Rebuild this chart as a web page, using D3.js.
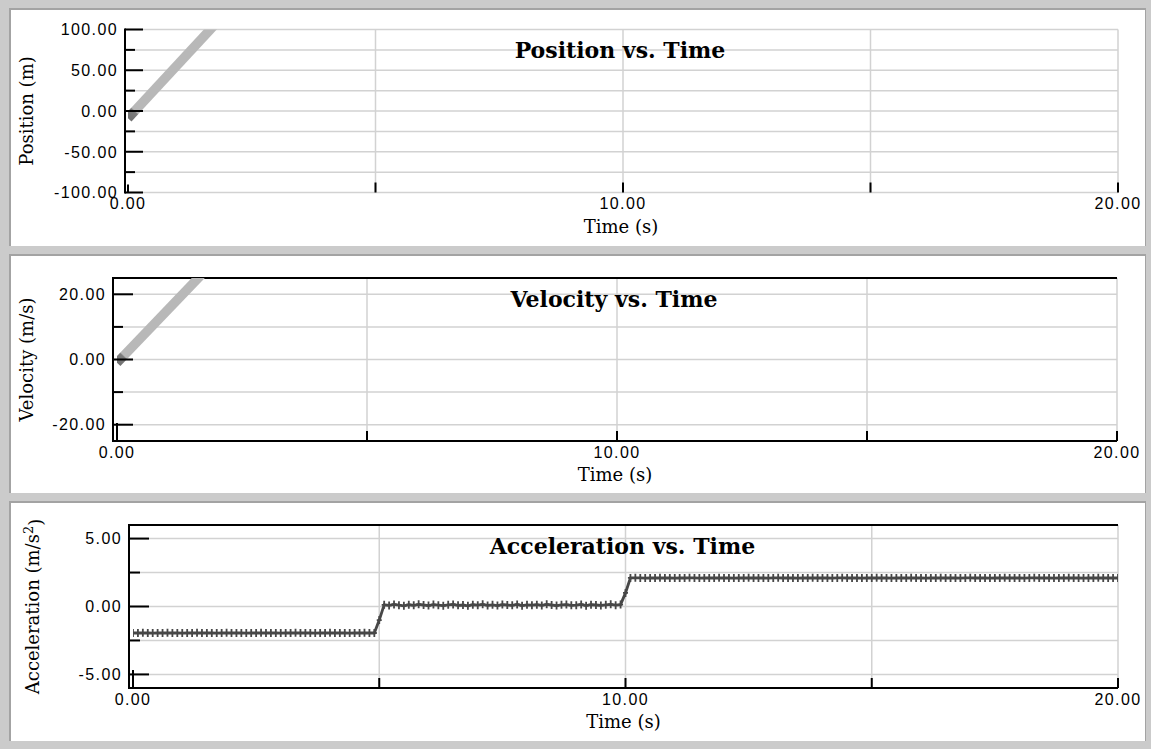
<!DOCTYPE html>
<html>
<head>
<meta charset="utf-8">
<script src="https://cdn.jsdelivr.net/npm/d3@7/dist/d3.min.js"></script>
<style>
  html, body { margin: 0; padding: 0; background: #cbcbcb; }
  svg { display: block; }
</style>
</head>
<body>
<svg id="chart" width="1151" height="749"></svg>
<script>
// ---- data ----
const timeDomain = [0, 20];
const timeTickValues = [0, 5, 10, 15, 20];
const timeTickLabels = [0, 10, 20];

// Position trace (s, m)
const positionTimes = [0, 1.8];
const positionValues = [-9, 109];

// Velocity trace (s, m/s)
const velocityTimes = [0, 1.75];
const velocityValues = [-1, 27];

// Acceleration samples (m/s^2), one every 0.1 s from 0.0 s to 20.0 s
const accelSampleStep = 0.1;
const accelValues = [
  // 0.0 – 4.9 s
  -1.95, -1.95, -1.94, -1.95, -1.96, -1.95, -1.95, -1.94, -1.95, -1.95,
  -1.96, -1.95, -1.95, -1.94, -1.95, -1.95, -1.95, -1.96, -1.95, -1.94,
  -1.95, -1.95, -1.95, -1.96, -1.95, -1.95, -1.94, -1.95, -1.95, -1.95,
  -1.96, -1.95, -1.95, -1.94, -1.95, -1.95, -1.95, -1.96, -1.95, -1.95,
  -1.94, -1.95, -1.95, -1.95, -1.96, -1.95, -1.95, -1.94, -1.95, -1.95,
  // 5.0 s
  -1.0,
  // 5.1 – 9.9 s
  0.12, 0.08, 0.15, 0.10, 0.05, 0.13, 0.09, 0.16, 0.11, 0.07,
  0.14, 0.10, 0.06, 0.12, 0.15, 0.09, 0.11, 0.05, 0.13, 0.10,
  0.16, 0.08, 0.12, 0.07, 0.14, 0.11, 0.09, 0.15, 0.06, 0.12,
  0.10, 0.13, 0.08, 0.16, 0.11, 0.07, 0.12, 0.14, 0.09, 0.10,
  0.15, 0.06, 0.13, 0.11, 0.08, 0.12, 0.16, 0.10, 0.14,
  // 10.0 s
  1.0,
  // 10.1 – 20.0 s
  2.10, 2.11, 2.10, 2.09, 2.10, 2.10, 2.11, 2.10, 2.10, 2.09,
  2.10, 2.10, 2.11, 2.10, 2.09, 2.10, 2.10, 2.10, 2.11, 2.10,
  2.10, 2.09, 2.10, 2.10, 2.11, 2.10, 2.10, 2.10, 2.09, 2.10,
  2.11, 2.10, 2.10, 2.10, 2.09, 2.10, 2.10, 2.11, 2.10, 2.10,
  2.10, 2.09, 2.10, 2.11, 2.10, 2.10, 2.10, 2.09, 2.10, 2.10,
  2.11, 2.10, 2.10, 2.09, 2.10, 2.10, 2.10, 2.11, 2.10, 2.10,
  2.09, 2.10, 2.10, 2.11, 2.10, 2.10, 2.10, 2.09, 2.10, 2.11,
  2.10, 2.10, 2.10, 2.09, 2.10, 2.10, 2.11, 2.10, 2.10, 2.10,
  2.09, 2.10, 2.11, 2.10, 2.10, 2.10, 2.09, 2.10, 2.10, 2.11,
  2.10, 2.10, 2.09, 2.10, 2.10, 2.11, 2.10, 2.10, 2.10, 2.10
];

// Axis ranges and tick values for each graph
const positionDomain = [-100, 100];
const positionMajorTicks = [-100, -50, 0, 50, 100];
const positionMinorTicks = [-75, -25, 25, 75];

const velocityDomain = [-25, 25];
const velocityMajorTicks = [-20, 0, 20];
const velocityMinorTicks = [-10, 10];

const accelDomain = [-6, 6];
const accelMajorTicks = [-5, 0, 5];
const accelMinorTicks = [-2.5, 2.5];

// ---- drawing ----
const svg = d3.select("#chart");
const fmt2 = d3.format(".2f");
const fmt = d => fmt2(d).replace("\u2212", "-");
const TICK_FONT = "Liberation Sans, Arial, sans-serif";
const SERIF = "DejaVu Serif, serif";

const defs = svg.append("defs");

function drawPanel(cfg) {
  // panel background with sunken border
  svg.append("rect")
    .attr("x", 9).attr("y", cfg.panelTop - 2)
    .attr("width", 1137).attr("height", cfg.panelBottom - cfg.panelTop + 2)
    .attr("fill", "#a3a3a3");
  svg.append("rect")
    .attr("x", 11).attr("y", cfg.panelTop)
    .attr("width", 1134).attr("height", cfg.panelBottom - cfg.panelTop)
    .attr("fill", "#ffffff");

  const x = d3.scaleLinear().domain(timeDomain).range([cfg.left, cfg.right]);
  const y = d3.scaleLinear().domain(cfg.domain).range([cfg.bottom, cfg.top]);
  const g = svg.append("g");

  // horizontal grid
  const gridVals = cfg.majorTicks.concat(cfg.minorTicks);
  g.selectAll(null).data(gridVals).join("line")
    .attr("x1", cfg.axisX).attr("x2", cfg.right)
    .attr("y1", d => y(d)).attr("y2", d => y(d))
    .attr("stroke", "#d2d2d2").attr("stroke-width", 1.5);

  // vertical grid
  g.selectAll(null).data(timeTickValues.filter(d => d > 0)).join("line")
    .attr("x1", d => x(d)).attr("x2", d => x(d))
    .attr("y1", cfg.top).attr("y2", cfg.bottom)
    .attr("stroke", "#d2d2d2").attr("stroke-width", 1.5);

  // black frame top / bottom
  if (cfg.frame) {
    [cfg.top, cfg.bottom].forEach(py => {
      g.append("line")
        .attr("x1", cfg.axisX).attr("x2", cfg.right)
        .attr("y1", py).attr("y2", py)
        .attr("stroke", "#000").attr("stroke-width", 2);
    });
  }

  // data clip
  const clipId = "clip-" + cfg.id;
  defs.append("clipPath").attr("id", clipId)
    .append("rect")
    .attr("x", cfg.left).attr("y", cfg.top)
    .attr("width", cfg.right - cfg.left).attr("height", cfg.bottom - cfg.top);

  cfg.drawSeries(g.append("g").attr("clip-path", `url(#${clipId})`), x, y);

  // y axis line and ticks
  g.append("line")
    .attr("x1", cfg.axisX).attr("x2", cfg.axisX)
    .attr("y1", cfg.top - 1).attr("y2", cfg.bottom + 1)
    .attr("stroke", "#000").attr("stroke-width", 2);
  g.selectAll(null).data(cfg.majorTicks).join("line")
    .attr("x1", cfg.axisX).attr("x2", cfg.axisX + cfg.majorLen)
    .attr("y1", d => y(d)).attr("y2", d => y(d))
    .attr("stroke", "#000").attr("stroke-width", 2);
  g.selectAll(null).data(cfg.minorTicks).join("line")
    .attr("x1", cfg.axisX).attr("x2", cfg.axisX + cfg.minorLen)
    .attr("y1", d => y(d)).attr("y2", d => y(d))
    .attr("stroke", "#000").attr("stroke-width", 2);

  // x ticks rising from the bottom edge
  g.selectAll(null).data(timeTickValues).join("line")
    .attr("x1", d => x(d)).attr("x2", d => x(d))
    .attr("y1", cfg.bottom)
    .attr("y2", d => cfg.bottom - (d === 0 ? cfg.zeroTickLen : 10))
    .attr("stroke", "#000").attr("stroke-width", 2);

  // y tick labels
  g.selectAll(null).data(cfg.majorTicks).join("text")
    .attr("x", cfg.axisX - 7).attr("y", d => y(d))
    .attr("dy", "0.36em")
    .attr("text-anchor", "end")
    .attr("font-family", TICK_FONT).attr("font-size", 16)
    .attr("letter-spacing", 1.4)
    .attr("fill", "#000")
    .text(d => fmt(d));

  // x tick labels
  g.selectAll(null).data(timeTickLabels).join("text")
    .attr("x", d => x(d)).attr("y", cfg.bottom + 11)
    .attr("dy", "0.36em")
    .attr("text-anchor", "middle")
    .attr("font-family", TICK_FONT).attr("font-size", 16)
    .attr("letter-spacing", 1.4)
    .attr("fill", "#000")
    .text(d => fmt(d));

  // x axis title
  g.append("text")
    .attr("x", (cfg.left + cfg.right) / 2 - 2).attr("y", cfg.bottom + 34)
    .attr("dy", "0.36em")
    .attr("text-anchor", "middle")
    .attr("font-family", SERIF).attr("font-size", 18)
    .text("Time (s)");

  // y axis title
  const yt = g.append("text")
    .attr("transform", `translate(${cfg.yTitleX},${(cfg.top + cfg.bottom) / 2}) rotate(-90)`)
    .attr("text-anchor", "middle")
    .attr("dy", "0.36em")
    .attr("font-family", SERIF).attr("font-size", 18);
  yt.append("tspan").text(cfg.yTitle);
  if (cfg.yTitleSup) {
    yt.append("tspan").attr("dy", "-0.5em").attr("font-size", 13).text(cfg.yTitleSup);
    yt.append("tspan").attr("dy", "0.5em").text(")");
  }

  // graph title
  g.append("text")
    .attr("x", (cfg.left + cfg.right) / 2 - 3).attr("y", cfg.top + 21)
    .attr("dy", "0.36em")
    .attr("text-anchor", "middle")
    .attr("font-family", SERIF).attr("font-size", 22).attr("font-weight", "bold")
    .text(cfg.title);
}

// Thick gray drawing stroke with a darker tip at its first point
function drawStroke(layer, x, y, times, values, id) {
  const pts = times.map((t, i) => [x(t), y(values[i])]);
  const grad = defs.append("linearGradient")
    .attr("id", id)
    .attr("gradientUnits", "userSpaceOnUse")
    .attr("x1", pts[0][0]).attr("y1", pts[0][1])
    .attr("x2", pts[pts.length - 1][0]).attr("y2", pts[pts.length - 1][1]);
  grad.append("stop").attr("offset", 0).attr("stop-color", "#707070");
  grad.append("stop").attr("offset", 0.07).attr("stop-color", "#7c7c7c");
  grad.append("stop").attr("offset", 0.08).attr("stop-color", "#b8b8b8");
  grad.append("stop").attr("offset", 1).attr("stop-color", "#b8b8b8");
  layer.append("path")
    .attr("d", d3.line()(pts))
    .attr("fill", "none")
    .attr("stroke", `url(#${id})`)
    .attr("stroke-width", 9.5)
    .attr("stroke-linecap", "butt");
}

drawPanel({
  id: "pos", panelTop: 10, panelBottom: 246,
  left: 128, right: 1118, top: 29.5, bottom: 192.5, axisX: 125,
  domain: positionDomain, majorTicks: positionMajorTicks, minorTicks: positionMinorTicks,
  majorLen: 18, minorLen: 10, zeroTickLen: 8, frame: false,
  title: "Position vs. Time", yTitle: "Position (m)", yTitleX: 27,
  drawSeries: (layer, x, y) => drawStroke(layer, x, y, positionTimes, positionValues, "posGrad")
});

drawPanel({
  id: "vel", panelTop: 256, panelBottom: 493,
  left: 117, right: 1117, top: 278, bottom: 441, axisX: 113,
  domain: velocityDomain, majorTicks: velocityMajorTicks, minorTicks: velocityMinorTicks,
  majorLen: 20, minorLen: 10, zeroTickLen: 18, frame: true,
  title: "Velocity vs. Time", yTitle: "Velocity (m/s)", yTitleX: 27,
  drawSeries: (layer, x, y) => drawStroke(layer, x, y, velocityTimes, velocityValues, "velGrad")
});

drawPanel({
  id: "acc", panelTop: 503, panelBottom: 741,
  left: 133, right: 1118, top: 525, bottom: 688, axisX: 129,
  domain: accelDomain, majorTicks: accelMajorTicks, minorTicks: accelMinorTicks,
  majorLen: 20, minorLen: 11, zeroTickLen: 18, frame: true,
  title: "Acceleration vs. Time", yTitle: "Acceleration (m/s", yTitleSup: "2", yTitleX: 33,
  drawSeries: (layer, x, y) => {
    const pts = accelValues.map((v, i) => [x(i * accelSampleStep), y(v)]);
    layer.append("path")
      .attr("d", d3.line()(pts))
      .attr("fill", "none")
      .attr("stroke", "#474747")
      .attr("stroke-width", 2.8);
    layer.selectAll(null).data(pts).join("path")
      .attr("transform", d => `translate(${d[0]},${d[1]})`)
      .attr("d", "M0,-4V4M-2.5,0H2.5")
      .attr("fill", "none")
      .attr("stroke", "#474747")
      .attr("stroke-width", 1.8);
  }
});
</script>
</body>
</html>
